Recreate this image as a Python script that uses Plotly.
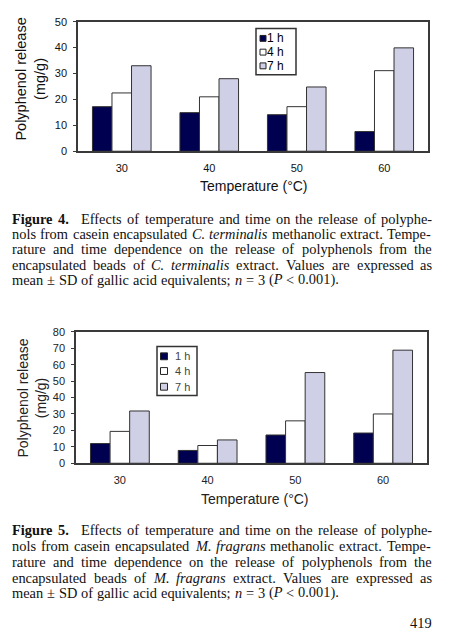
import re
import plotly.graph_objects as go

# ---------------- data ----------------
temps = ["30", "40", "50", "60"]
series_names = ["1 h", "4 h", "7 h"]

fig4_1h = [17.2, 14.9, 14.1, 7.6]
fig4_4h = [22.5, 21.0, 17.2, 31.1]
fig4_7h = [33.0, 28.0, 24.8, 39.9]

fig5_1h = [12.0, 7.8, 17.2, 18.4]
fig5_4h = [19.4, 10.8, 25.8, 30.0]
fig5_7h = [31.8, 14.2, 55.2, 68.8]

fig4_yticks = [0, 10, 20, 30, 40, 50]
fig5_yticks = [0, 10, 20, 30, 40, 50, 60, 70, 80]

y_title = "Polyphenol release<br>(mg/g)"
x_title = "Temperature (°C)"

cap4 = [
    "<b>Figure</b> <b>4.</b> Effects of temperature and time on the release of polyphe-",
    "nols from casein encapsulated <i>C.</i> <i>terminalis</i> methanolic extract. Tempe-",
    "rature and time dependence on the release of polyphenols from the",
    "encapsulated beads of <i>C.</i> <i>terminalis</i> extract. Values are expressed as",
    "mean ± SD of gallic acid equivalents; <i>n</i> = 3 (<i>P</i> &lt; 0.001).",
]
cap5 = [
    "<b>Figure</b> <b>5.</b> Effects of temperature and time on the release of polyphe-",
    "nols from casein encapsulated <i>M.</i> <i>fragrans</i> methanolic extract. Tempe-",
    "rature and time dependence on the release of polyphenols from the",
    "encapsulated beads of <i>M.</i> <i>fragrans</i> extract. Values are expressed as",
    "mean ± SD of gallic acid equivalents; <i>n</i> = 3 (<i>P</i> &lt; 0.001).",
]
page_number = "419"

# ---------------- styles ----------------
W, H = 460, 640
COLORS = ["#000050", "#ffffff", "#cfcfe6"]
EDGE = "#333333"
SANS = "Liberation Sans, Arial, sans-serif"
SERIF = "Liberation Serif, Times New Roman, serif"


def X(px):
    return px / W


def Y(py):
    return 1 - py / H


fig = go.Figure()

panels = [
    dict(vals=[fig4_1h, fig4_4h, fig4_7h], xa="x", ya="y", yticks=fig4_yticks,
         xdom=[X(78), X(428)], ydom=[Y(148), Y(16)], txt="#111111"),
    dict(vals=[fig5_1h, fig5_4h, fig5_7h], xa="x2", ya="y2", yticks=fig5_yticks,
         xdom=[X(76), X(427)], ydom=[Y(466), Y(332)], txt="#222222"),
]

for p in panels:
    for name, vals, col in zip(series_names, p["vals"], COLORS):
        fig.add_trace(go.Bar(
            x=temps, y=vals, name=name, xaxis=p["xa"], yaxis=p["ya"],
            marker=dict(color=col, line=dict(color=EDGE, width=1)),
            showlegend=False,
        ))

axis_common = dict(showline=True, mirror=True, linecolor="#3a3a3a", linewidth=1.5,
                   showgrid=False, zeroline=False)

for i, p in enumerate(panels):
    sx = "" if i == 0 else "2"
    fig.layout["xaxis" + sx] = dict(
        axis_common, domain=p["xdom"], anchor="y" + sx, type="category",
        ticks="", ticklabelstandoff=6,
        tickfont=dict(family=SANS, size=11, color=p["txt"]),
    )
    fig.layout["yaxis" + sx] = dict(
        axis_common, domain=p["ydom"], anchor="x" + sx,
        range=[0, p["yticks"][-1]], tickvals=p["yticks"],
        ticks="outside", ticklen=3, tickcolor="#3a3a3a",
        ticklabelstandoff=4,
        tickfont=dict(family=SANS, size=11, color=p["txt"]),
    )

fig.update_layout(
    width=W, height=H, margin=dict(l=0, r=0, t=0, b=0),
    paper_bgcolor="white", plot_bgcolor="white",
    bargap=0.33, bargroupgap=0, barmode="group",
    showlegend=False,
)

shapes = []
annotations = []

# ---------- manual legends ----------
legends = [
    dict(box=(256, 23, 296, 70), sq_x=263, sq=6, tx=267, rows=[33, 47, 61], size=12, color="#000000"),
    dict(box=(157, 347, 197, 397), sq_x=164, sq=7, tx=175, rows=[357, 372, 388], size=11, color="#444444"),
]
for lg in legends:
    x0, y0, x1, y1 = lg["box"]
    shapes.append(dict(type="rect", xref="paper", yref="paper", x0=X(x0), x1=X(x1),
                       y0=Y(y1), y1=Y(y0), line=dict(color="#333333", width=1.5),
                       fillcolor="white", layer="above"))
    for name, col, ry in zip(series_names, COLORS, lg["rows"]):
        h = lg["sq"] / 2
        shapes.append(dict(type="rect", xref="paper", yref="paper",
                           x0=X(lg["sq_x"] - h), x1=X(lg["sq_x"] + h),
                           y0=Y(ry + h), y1=Y(ry - h),
                           line=dict(color="#222222", width=1), fillcolor=col, layer="above"))
        annotations.append(dict(text=name, xref="paper", yref="paper", x=X(lg["tx"]), y=Y(ry),
                                xanchor="left", yanchor="middle", showarrow=False,
                                borderpad=0, borderwidth=0,
                                font=dict(family=SANS, size=lg["size"], color=lg["color"])))

# ---------- axis titles ----------
for (ty_x, ty_y, tx_x, tx_y, col, fs) in [(31, 75, 254, 183, "#111111", 14.5),
                                         (31, 400, 255, 502, "#222222", 14)]:
    annotations.append(dict(text=y_title, xref="paper", yref="paper", x=X(ty_x), y=Y(ty_y),
                            xanchor="center", yanchor="middle", textangle=-90, showarrow=False,
                            borderpad=0, borderwidth=0,
                            font=dict(family=SANS, size=fs, color=col)))
    annotations.append(dict(text=x_title, xref="paper", yref="paper", x=X(tx_x), y=Y(tx_y),
                            xanchor="center", yanchor="middle", showarrow=False,
                            borderpad=0, borderwidth=0,
                            font=dict(family=SANS, size=14, color=col)))

# ---------- justified captions ----------
ROMAN = {" ": 250, ".": 250, ",": 250, ";": 278, ":": 278, "-": 333, "(": 333, ")": 333,
         "±": 564, "<": 564, "=": 564}
ROMAN.update({d: 500 for d in "0123456789"})
ROMAN.update(dict(zip("abcdefghijklmnopqrstuvwxyz",
                      [444, 500, 444, 500, 444, 333, 500, 500, 278, 278, 500, 278, 778, 500, 500,
                       500, 500, 333, 389, 278, 500, 500, 722, 500, 500, 444])))
ROMAN.update(dict(zip("ABCDEFGHIJKLMNOPQRSTUVWXYZ",
                      [722, 667, 667, 722, 611, 556, 722, 722, 333, 389, 722, 611, 889, 722, 722,
                       556, 722, 667, 556, 611, 722, 722, 944, 722, 722, 611])))
ITALIC = dict(ROMAN)
ITALIC.update(dict(zip("abcdefghijklmnopqrstuvwxyz",
                       [500, 500, 444, 500, 444, 278, 500, 500, 278, 278, 444, 278, 722, 500, 500,
                        500, 500, 389, 389, 278, 500, 444, 667, 444, 444, 389])))
ITALIC.update({"C": 667, "M": 833, "P": 611})
BOLD = dict(ROMAN)
BOLD.update({"F": 611, "i": 278, "g": 500, "u": 556, "r": 444, "e": 444})

CAP_SIZE = 14.4
L_EDGE, R_EDGE = 12, 432


def word_width(tok):
    w = 0
    for seg in re.split(r"(<i>.*?</i>|<b>.*?</b>)", tok):
        if not seg:
            continue
        table = ROMAN
        if seg.startswith("<i>"):
            table, seg = ITALIC, seg[3:-4]
        elif seg.startswith("<b>"):
            table, seg = BOLD, seg[3:-4]
        seg = seg.replace("&lt;", "<")
        w += sum(table.get(c, 500) for c in seg)
    return w * CAP_SIZE / 1000


def add_caption(lines, ys):
    for li, (line, yc) in enumerate(zip(lines, ys)):
        toks = line.split(" ")
        widths = [word_width(t) for t in toks]
        extra = [7 if (t.startswith("<b>") and j + 1 < len(toks) and not toks[j + 1].startswith("<b>"))
                 else 0 for j, t in enumerate(toks)]
        last = li == len(lines) - 1
        if last:
            gap = 270 * CAP_SIZE / 1000
        else:
            gap = (R_EDGE - L_EDGE - sum(widths) - sum(extra)) / (len(toks) - 1)
        x = L_EDGE
        for t, w, e in zip(toks, widths, extra):
            annotations.append(dict(text=t, xref="paper", yref="paper", x=X(x), y=Y(yc),
                                    xanchor="left", yanchor="middle", showarrow=False,
                                    borderpad=0, borderwidth=0,
                                    font=dict(family=SERIF, size=CAP_SIZE, color="#111111")))
            x += w + e + gap


add_caption(cap4, [217, 232.5, 248, 263.5, 279])
add_caption(cap5, [534.5, 550.5, 566.5, 582.5, 598])

annotations.append(dict(text=page_number, xref="paper", yref="paper", x=X(432), y=Y(629),
                        xanchor="right", yanchor="middle", showarrow=False,
                        borderpad=0, borderwidth=0,
                        font=dict(family=SERIF, size=CAP_SIZE, color="#111111")))

fig.update_layout(shapes=shapes, annotations=annotations)
fig.write_html("out.html")
